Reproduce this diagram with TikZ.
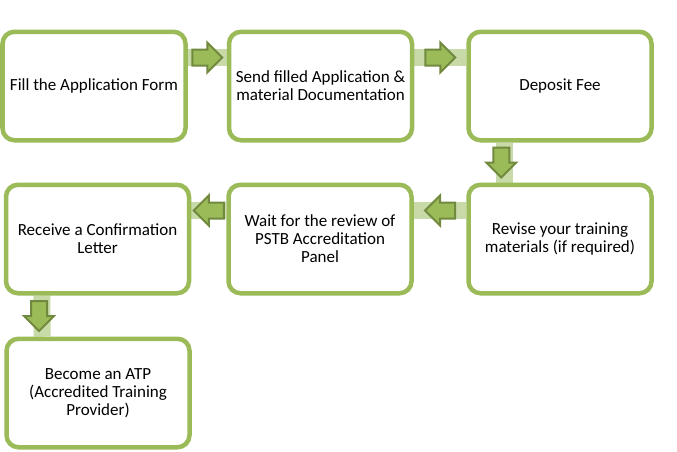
\documentclass[tikz,border=0pt]{standalone}
\usepackage{fontspec}
\setmainfont{Carlito}
\usetikzlibrary{calc,backgrounds}

\definecolor{boxgreen}{HTML}{9BBB59}
\definecolor{arrowdark}{HTML}{71893F}
\definecolor{bandgreen}{HTML}{C8DAA8}

\tikzset{
	stepbox/.style={draw=boxgreen,line width=4.5pt,rounded corners=12pt,fill=white,
		minimum width=183pt,minimum height=108.5pt,align=center,inner sep=4pt,
		font=\fontsize{17}{18}\selectfont},
	band/.style={draw=bandgreen,line width=17pt},
	blockarrow/.style={fill=boxgreen,draw=arrowdark,line width=2pt,line join=miter}
}

\newcommand{\flowarrow}[2]{%
	\draw[blockarrow,shift={#1},rotate=#2] (-15,-8) -- (0,-8) -- (0,-15) -- (15,0) -- (0,15) -- (0,8) -- (-15,8) -- cycle;}

\begin{document}
\begin{tikzpicture}[x=1pt,y=-1pt]
	\useasboundingbox (0,0) rectangle (677,451);

	\node [stepbox](F) at (94,86) {Fill the Application Form};
	\node [stepbox](S) at (320.5,86) {Send filled Application \&\\material Documentation};
	\node [stepbox](D) at (560,86) {Deposit Fee};
	\node [stepbox](R) at (560,239) {Revise your training\\materials (if required)};
	\node [stepbox](W) at (320,239) {Wait for the review of\\PSTB Accreditation\\Panel};
	\node [stepbox](C) at (97.5,239) {Receive a Confirmation\\Letter};
	\node [stepbox](B) at (98,393) {Become an ATP\\(Accredited Training\\Provider)};

	\begin{scope}[on background layer]
		\draw [band] ([yshift=-28pt]F.north east) -- ([yshift=-28pt]S.north west);
		\draw [band] ([yshift=-28pt]S.north east) -- ([yshift=-28pt]D.north west);
		\draw [band] ([xshift=38pt]D.south west) -- ([xshift=38pt]R.north west);
		\draw [band] ([yshift=-28pt]R.north west) -- ([yshift=-28pt]W.north east);
		\draw [band] ([yshift=-28pt]W.north west) -- ([yshift=-28pt]C.north east);
		\draw [band] ([xshift=38pt]C.south west) -- ([xshift=38pt]B.north west);
	\end{scope}

	\flowarrow{($([yshift=-28pt]F.north east)!0.5!([yshift=-28pt]S.north west)$)}{0}
	\flowarrow{($([yshift=-28pt]S.north east)!0.5!([yshift=-28pt]D.north west)$)}{0}
	\flowarrow{($([xshift=35pt]D.south west)!0.5!([xshift=35pt]R.north west)$)}{-90}
	\flowarrow{($([yshift=-28pt]R.north west)!0.5!([yshift=-28pt]W.north east)$)}{180}
	\flowarrow{($([yshift=-28pt]W.north west)!0.5!([yshift=-28pt]C.north east)$)}{180}
	\flowarrow{($([xshift=35pt]C.south west)!0.5!([xshift=35pt]B.north west)$)}{-90}
\end{tikzpicture}
\end{document}
